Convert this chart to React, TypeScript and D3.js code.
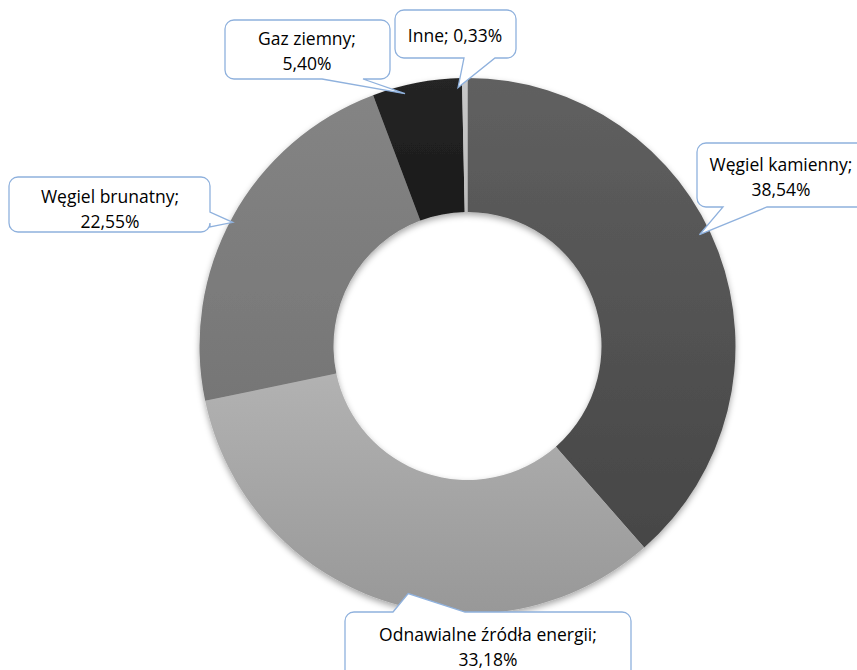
import React, { useEffect, useRef } from 'react';
import * as d3 from 'd3';

const categories = ['Węgiel kamienny', 'Odnawialne źródła energii', 'Węgiel brunatny', 'Gaz ziemny', 'Inne'];
const shares = [38.54, 33.18, 22.55, 5.4, 0.33];
const labelLines = [
  ['Węgiel kamienny;', '38,54%'],
  ['Odnawialne źródła energii;', '33,18%'],
  ['Węgiel brunatny;', '22,55%'],
  ['Gaz ziemny;', '5,40%'],
  ['Inne; 0,33%'],
];
const colorsTop = ['#606060', '#b2b2b2', '#848484', '#252525', '#c8c8c8'];
const colorsBottom = ['#464646', '#989898', '#767676', '#1a1a1a', '#bcbcbc'];

// callout boxes: rect, side where the pointer leaves, base offsets, tip angle offset / radius factor, text anchor
const boxes = [
  { x: 697, y: 143, w: 180, h: 64, side: 'bottom', b1: 26, b2: 70, rf: 0.96, da: -5, tx: 781, ty: 164 },
  { x: 345, y: 612, w: 286, h: 70, side: 'top', b1: 48, b2: 120, rf: 0.95, da: -5, tx: 488, ty: 634 },
  { x: 9, y: 177, w: 201, h: 55, side: 'right', b1: 35, b2: 50, rf: 0.99, da: -1, tx: 110, ty: 196 },
  { x: 225, y: 20, w: 165, h: 59, side: 'bottom', b1: 97, b2: 138, rf: 0.97, da: -3, tx: 307, ty: 38 },
  { x: 395, y: 10, w: 121, h: 48, side: 'bottom', b1: 69, b2: 100, rf: 0.965, da: -1.5, tx: 455, ty: 35 },
];

function callout(b: typeof boxes[0], tip: [number, number]) {
  const r = 9;
  const { x, y, w, h } = b;
  const p = d3.path();
  p.moveTo(x + r, y);
  if (b.side === 'top') {
    p.lineTo(x + b.b1, y);
    p.lineTo(tip[0], tip[1]);
    p.lineTo(x + b.b2, y);
  }
  p.lineTo(x + w - r, y);
  p.arcTo(x + w, y, x + w, y + r, r);
  if (b.side === 'right') {
    p.lineTo(x + w, y + b.b1);
    p.lineTo(tip[0], tip[1]);
    p.lineTo(x + w, y + b.b2);
  }
  p.lineTo(x + w, y + h - r);
  p.arcTo(x + w, y + h, x + w - r, y + h, r);
  if (b.side === 'bottom') {
    p.lineTo(x + b.b2, y + h);
    p.lineTo(tip[0], tip[1]);
    p.lineTo(x + b.b1, y + h);
  }
  p.lineTo(x + r, y + h);
  p.arcTo(x, y + h, x, y + h - r, r);
  p.lineTo(x, y + r);
  p.arcTo(x, y, x + r, y, r);
  p.closePath();
  return p.toString();
}

export default function App() {
  const ref = useRef<SVGSVGElement>(null);

  useEffect(() => {
    if (!ref.current) return;
    const svg = d3.select(ref.current);
    svg.selectAll('*').remove();

    const cx = 467.5;
    const cy = 346;
    const outer = 268;
    const inner = 134;

    const defs = svg.append('defs');
    const f = defs.append('filter').attr('id', 'sh').attr('x', '-10%').attr('y', '-10%').attr('width', '120%').attr('height', '125%');
    f.append('feDropShadow').attr('dx', 0).attr('dy', 3).attr('stdDeviation', 3)
      .attr('flood-color', '#000').attr('flood-opacity', 0.35);

    categories.forEach((c, i) => {
      const g = defs.append('linearGradient').attr('id', `g${i}`)
        .attr('x1', 0).attr('y1', 0).attr('x2', 0).attr('y2', 1);
      g.append('stop').attr('offset', '0%').attr('stop-color', colorsTop[i]);
      g.append('stop').attr('offset', '100%').attr('stop-color', colorsBottom[i]);
    });

    const pie = d3.pie<number>().sort(null).value(d => d);
    const arcs = pie(shares);
    const arc = d3.arc<d3.PieArcDatum<number>>().innerRadius(inner).outerRadius(outer);

    const g = svg.append('g').attr('transform', `translate(${cx},${cy})`);
    g.append('g').attr('filter', 'url(#sh)')
      .selectAll('path')
      .data(arcs)
      .enter()
      .append('path')
      .attr('d', arc)
      .attr('fill', (_, i) => `url(#g${i})`);

    const font = "'Open Sans', sans-serif";
    arcs.forEach((a, i) => {
      const b = boxes[i];
      const ang = (a.startAngle + a.endAngle) / 2 + (b.da * Math.PI) / 180;
      const rr = outer * b.rf;
      const tip: [number, number] = [cx + rr * Math.sin(ang), cy - rr * Math.cos(ang)];
      svg.append('path')
        .attr('d', callout(b, tip))
        .attr('fill', '#fff')
        .attr('stroke', '#8fb1dd')
        .attr('stroke-width', 1.3);
      const lines = labelLines[i];
      const lh = 24.5;
      lines.forEach((t, j) => {
        svg.append('text')
          .attr('x', b.tx)
          .attr('y', b.ty + j * lh)
          .attr('text-anchor', 'middle')
          .attr('dominant-baseline', 'central')
          .attr('font-family', font)
          .attr('font-size', '17.5px')
          .attr('fill', '#000')
          .text(t);
      });
    });
  }, []);

  return (
    <svg ref={ref} width={857} height={670}
      style={{ position: 'absolute', left: 0, top: 0, background: '#fff' }} />
  );
}
